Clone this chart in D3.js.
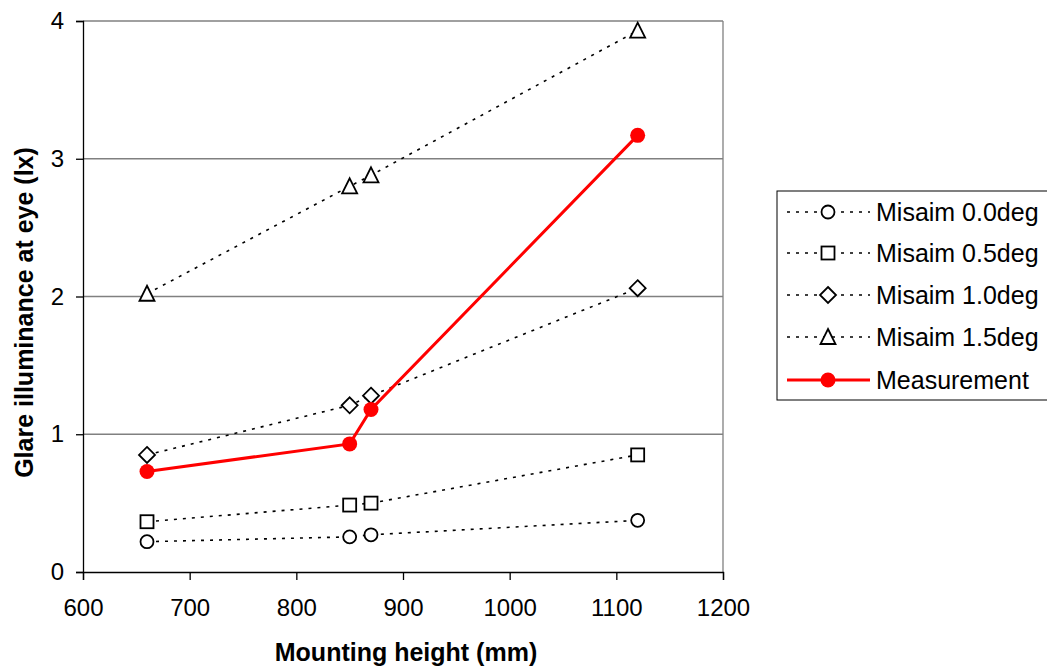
<!DOCTYPE html>
<html>
<head>
<meta charset="utf-8">
<script src="https://cdn.jsdelivr.net/npm/d3@7"></script>
<style>
  body { margin: 0; background: #fff; }
  svg { display: block; font-family: "Liberation Sans", Arial, sans-serif; }
</style>
</head>
<body>
<svg id="chart" width="1047" height="672"></svg>
<script>
const heights = [660, 850, 870, 1120];
const misaim00 = [0.22, 0.255, 0.27, 0.375];
const misaim05 = [0.365, 0.486, 0.50, 0.85];
const misaim10 = [0.85, 1.21, 1.28, 2.06];
const misaim15 = [2.02, 2.80, 2.88, 3.93];
const measurement = [0.73, 0.93, 1.18, 3.17];
const seriesNames = ["Misaim 0.0deg", "Misaim 0.5deg", "Misaim 1.0deg", "Misaim 1.5deg", "Measurement"];
const xTicks = [600, 700, 800, 900, 1000, 1100, 1200];
const yTicks = [0, 1, 2, 3, 4];

const series = [
  { name: seriesNames[0], values: misaim00, marker: "circle" },
  { name: seriesNames[1], values: misaim05, marker: "square" },
  { name: seriesNames[2], values: misaim10, marker: "diamond" },
  { name: seriesNames[3], values: misaim15, marker: "triangle" },
  { name: seriesNames[4], values: measurement, marker: "dot" }
];

const svg = d3.select("#chart");
const m = { left: 83, right: 723, top: 21, bottom: 572 };
const x = d3.scaleLinear().domain([600, 1200]).range([m.left, m.right]);
const y = d3.scaleLinear().domain([0, 4]).range([m.bottom, m.top]);

// gridlines
svg.append("g").selectAll("line").data(yTicks.filter(d => d > 0)).join("line")
  .attr("x1", m.left).attr("x2", m.right)
  .attr("y1", d => y(d)).attr("y2", d => y(d))
  .attr("stroke", "#808080").attr("stroke-width", 1.3);
// right border
svg.append("line").attr("x1", m.right).attr("x2", m.right).attr("y1", m.top).attr("y2", m.bottom)
  .attr("stroke", "#808080").attr("stroke-width", 1.3);

// axes
const xAxis = d3.axisBottom(x).tickValues(xTicks).tickSize(8).tickPadding(19).tickFormat(d3.format("d"));
const gx = svg.append("g").attr("transform", `translate(0,${m.bottom})`).call(xAxis);
gx.select(".domain").attr("stroke", "#000").attr("stroke-width", 1.3);
gx.selectAll(".tick line").attr("stroke", "#000").attr("stroke-width", 1.3);
gx.selectAll("text").attr("font-size", 24).attr("fill", "#000")
  .attr("font-family", "Liberation Sans, Arial, sans-serif");

const yAxis = d3.axisLeft(y).tickValues(yTicks).tickSize(7).tickPadding(12).tickFormat(d3.format("d"));
const gy = svg.append("g").attr("transform", `translate(${m.left},0)`).call(yAxis);
gy.select(".domain").attr("stroke", "#000").attr("stroke-width", 1.3);
gy.selectAll(".tick line").attr("stroke", "#000").attr("stroke-width", 1.3);
gy.selectAll("text").attr("font-size", 24).attr("fill", "#000")
  .attr("font-family", "Liberation Sans, Arial, sans-serif");

// axis titles
svg.append("text").attr("x", (m.left + m.right) / 2 + 3).attr("y", 661)
  .attr("text-anchor", "middle").attr("font-size", 25).attr("font-weight", "bold")
  .text("Mounting height (mm)");
svg.append("text").attr("transform", `translate(33,${(m.top + m.bottom) / 2 + 16}) rotate(-90)`)
  .attr("text-anchor", "middle").attr("font-size", 25).attr("font-weight", "bold")
  .text("Glare illuminance at eye (lx)");

// marker drawing
function drawMarker(g, type, cx, cy) {
  const st = { stroke: "#000", "stroke-width": 1.8, fill: "#fff" };
  let el;
  if (type === "circle") {
    el = g.append("circle").attr("cx", cx).attr("cy", cy).attr("r", 6.5);
  } else if (type === "square") {
    el = g.append("rect").attr("x", cx - 6.5).attr("y", cy - 6.5).attr("width", 13).attr("height", 13);
  } else if (type === "diamond") {
    el = g.append("path").attr("d", `M${cx},${cy - 8}L${cx + 8},${cy}L${cx},${cy + 8}L${cx - 8},${cy}Z`);
  } else if (type === "triangle") {
    el = g.append("path").attr("d", `M${cx},${cy - 8}L${cx + 7.5},${cy + 7}L${cx - 7.5},${cy + 7}Z`);
  } else {
    g.append("circle").attr("cx", cx).attr("cy", cy).attr("r", 7.5).attr("fill", "#ff0000");
    return;
  }
  Object.entries(st).forEach(([k, v]) => el.attr(k, v));
}

const line = d3.line().x(d => x(d[0])).y(d => y(d[1]));

series.forEach(s => {
  const pts = heights.map((h, i) => [h, s.values[i]]);
  const g = svg.append("g");
  const isMeas = s.marker === "dot";
  g.append("path").attr("d", line(pts)).attr("fill", "none")
    .attr("stroke", isMeas ? "#ff0000" : "#000")
    .attr("stroke-width", isMeas ? 3 : 1.6)
    .attr("stroke-dasharray", isMeas ? null : "3,6");
  pts.forEach(p => drawMarker(g, s.marker, x(p[0]), y(p[1])));
});

// legend
const lg = svg.append("g");
lg.append("rect").attr("x", 777).attr("y", 191).attr("width", 290).attr("height", 209)
  .attr("fill", "#fff").attr("stroke", "#000").attr("stroke-width", 1);
const legendY = [212, 253, 295, 337, 380];
series.forEach((s, i) => {
  const ly = legendY[i];
  const isMeas = s.marker === "dot";
  lg.append("line").attr("x1", 787).attr("x2", 870).attr("y1", ly).attr("y2", ly)
    .attr("stroke", isMeas ? "#ff0000" : "#000")
    .attr("stroke-width", isMeas ? 3 : 1.6)
    .attr("stroke-dasharray", isMeas ? null : "3,6");
  drawMarker(lg, s.marker, 828, ly);
  lg.append("text").attr("x", 876).attr("y", ly + 9).attr("font-size", 25).attr("fill", "#000")
    .text(s.name);
});
</script>
</body>
</html>
